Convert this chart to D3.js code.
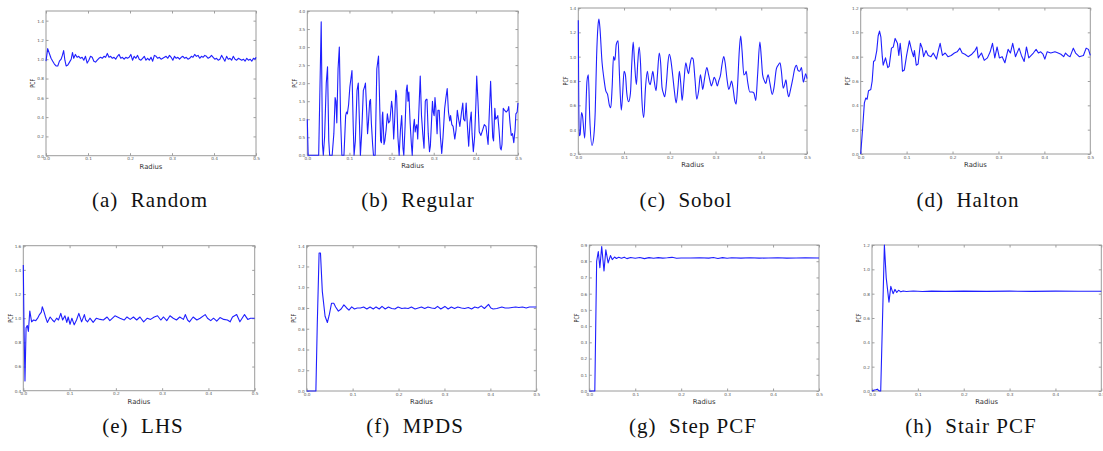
<!DOCTYPE html>
<html>
<head>
<meta charset="utf-8">
<script src="https://cdn.jsdelivr.net/npm/d3@7"></script>
<style>
  body { margin: 0; background: #fff; }
  .tick text { font-family: "DejaVu Sans", sans-serif; font-size: 4.2px; fill: #555; }
  .tick line { stroke: #888; stroke-width: 0.8; }
  .axis-label { font-family: "DejaVu Sans", sans-serif; font-size: 6.8px; fill: #333; }
  .caption { font-family: "Liberation Serif", serif; font-size: 21px; fill: #111; letter-spacing: 1px; }
</style>
</head>
<body>
<svg id="fig" width="1103" height="451"></svg>
<script>
// Radius axis is the same for every panel
const radiusTicks = [0, 0.1, 0.2, 0.3, 0.4, 0.5];

// PCF curves, [radius, pcf]
const randomPcf = [[0,0.98],[0.004,1.11],[0.008,1.06],[0.012,1.01],[0.016,0.98],[0.02,0.95],[0.024,0.93],[0.028,0.93],[0.032,0.98],[0.036,1.00],[0.039,1.04],[0.042,1.09],[0.045,0.99],[0.048,0.93],[0.052,0.94],[0.056,0.97],[0.06,1.00],[0.063,1.07],[0.066,1.01],[0.07,1.05],[0.074,1.02],[0.078,1.03],[0.082,1.01],[0.086,1.02],[0.09,0.99],[0.094,1.03],[0.098,0.96],[0.102,0.99],[0.106,1.03],[0.11,1.02],[0.114,0.98],[0.118,0.97],[0.122,0.99],[0.126,1.01],[0.13,1.02],[0.134,1.01],[0.138,1.03],[0.142,1.02],[0.146,1.06],[0.15,1.02],[0.154,1.03],[0.158,1.01],[0.162,1.02],[0.166,1.00],[0.17,1.03],[0.174,1.05],[0.178,1.01],[0.182,1.02],[0.186,1.00],[0.19,1.02],[0.194,1.01],[0.198,1.02],[0.202,1.05],[0.206,0.99],[0.21,1.03],[0.214,1.01],[0.218,1.04],[0.222,1.00],[0.226,0.99],[0.23,1.01],[0.234,1.03],[0.238,0.99],[0.242,1.01],[0.246,0.99],[0.25,1.02],[0.254,0.98],[0.258,1.04],[0.262,1.03],[0.266,1.01],[0.27,1.02],[0.274,1.00],[0.278,1.01],[0.282,1.02],[0.286,1.03],[0.29,1.01],[0.294,1.04],[0.298,1.02],[0.302,0.99],[0.306,1.03],[0.31,1.01],[0.314,1.02],[0.318,1.00],[0.322,1.02],[0.326,1.03],[0.33,1.01],[0.334,1.02],[0.338,1.00],[0.342,1.01],[0.346,1.03],[0.35,1.02],[0.354,1.05],[0.358,1.03],[0.362,1.04],[0.366,1.01],[0.37,1.03],[0.374,1.02],[0.378,1.04],[0.382,1.03],[0.386,1.01],[0.39,1.02],[0.394,1.04],[0.398,1.02],[0.402,1.00],[0.406,1.01],[0.41,0.99],[0.414,1.00],[0.418,1.04],[0.422,1.01],[0.426,0.98],[0.43,1.03],[0.434,1.00],[0.438,1.01],[0.442,0.99],[0.446,1.03],[0.45,1.00],[0.454,0.99],[0.458,1.01],[0.462,1.00],[0.466,0.99],[0.47,1.00],[0.474,0.98],[0.478,1.01],[0.482,0.99],[0.486,1.00],[0.49,0.98],[0.494,1.01],[0.498,1.00],[0.5,1.02]];

const regularPcf = [[0,1.0],[0.002,0],[0.027,0],[0.033,3.7],[0.036,0.3],[0.038,0],[0.041,0.5],[0.045,2.0],[0.048,2.45],[0.051,0.4],[0.053,0],[0.059,0],[0.063,0.6],[0.066,1.6],[0.068,1.5],[0.07,0.9],[0.073,2.4],[0.076,3.0],[0.079,1.0],[0.082,0],[0.087,0],[0.091,1.1],[0.093,1.2],[0.095,1.15],[0.098,1.4],[0.101,1.9],[0.106,2.35],[0.109,0.8],[0.111,0],[0.114,0.4],[0.118,1.8],[0.121,2.0],[0.124,0.8],[0.126,0],[0.129,0.6],[0.133,1.8],[0.136,1.9],[0.138,2.0],[0.141,1.2],[0.143,0.6],[0.145,0.9],[0.148,1.5],[0.15,1.55],[0.152,0.9],[0.155,0.3],[0.157,0],[0.161,0],[0.165,2.4],[0.169,2.75],[0.172,1.3],[0.174,0.4],[0.176,0.35],[0.178,1.1],[0.179,1.2],[0.182,0.3],[0.184,0.4],[0.187,0.7],[0.19,1.15],[0.193,0.9],[0.196,0.95],[0.2,1.5],[0.202,1.3],[0.205,0.45],[0.207,0.9],[0.21,1.8],[0.212,1.65],[0.215,0.5],[0.218,0],[0.221,0.7],[0.224,1.1],[0.227,0.2],[0.229,0],[0.232,0.8],[0.235,1.8],[0.237,1.95],[0.239,1.5],[0.241,1.75],[0.244,0.9],[0.247,0.3],[0.249,0],[0.252,0.8],[0.254,1.0],[0.256,0.65],[0.258,0.8],[0.26,0.85],[0.262,0.45],[0.265,1.3],[0.268,2.2],[0.271,1.1],[0.274,0.6],[0.277,0.2],[0.28,1.5],[0.282,1.55],[0.284,1.55],[0.287,0.6],[0.29,0.1],[0.292,0.25],[0.295,1.0],[0.297,1.5],[0.299,1.2],[0.301,1.1],[0.303,1.6],[0.305,1.3],[0.308,0.6],[0.31,1.25],[0.313,1.25],[0.316,0.5],[0.319,0.05],[0.322,0.5],[0.326,1.3],[0.329,1.6],[0.332,1.85],[0.335,1.2],[0.338,0.95],[0.34,1.1],[0.343,0.85],[0.346,0.8],[0.35,0.45],[0.353,0.7],[0.356,1.25],[0.359,1.0],[0.362,0.8],[0.366,1.2],[0.369,1.45],[0.371,1.0],[0.374,0.95],[0.377,1.45],[0.38,0.8],[0.383,0.25],[0.386,0.9],[0.389,1.2],[0.391,0.6],[0.394,0.1],[0.397,0.5],[0.4,1.4],[0.402,2.2],[0.405,1.5],[0.408,0.65],[0.412,0.55],[0.416,0.7],[0.42,0.85],[0.424,0.8],[0.427,0.5],[0.429,0.3],[0.432,1.2],[0.435,2.05],[0.438,1.1],[0.44,0.5],[0.442,0.4],[0.445,1.3],[0.447,1.0],[0.45,1.05],[0.452,1.1],[0.455,0.7],[0.458,0.2],[0.46,0.15],[0.462,0.3],[0.465,1.3],[0.468,1.25],[0.472,1.2],[0.476,1.25],[0.478,1.35],[0.481,0.9],[0.484,0.55],[0.487,0.6],[0.49,0.35],[0.493,0.7],[0.495,1.15],[0.498,1.2],[0.5,1.45]];

const sobolPcf = [[0,1.30],[0.002,0.35],[0.004,0.36],[0.007,0.54],[0.009,0.52],[0.014,0.33],[0.019,0.8],[0.022,0.85],[0.025,0.5],[0.03,0.27],[0.034,0.35],[0.037,0.55],[0.04,1.0],[0.043,1.25],[0.045,1.31],[0.047,1.25],[0.052,0.95],[0.056,0.82],[0.06,0.72],[0.064,0.69],[0.068,0.6],[0.071,0.58],[0.074,0.75],[0.077,1.0],[0.08,0.97],[0.083,1.1],[0.087,1.13],[0.09,0.85],[0.094,0.56],[0.097,0.7],[0.1,0.88],[0.103,0.85],[0.106,0.7],[0.11,0.63],[0.114,0.7],[0.117,0.95],[0.12,1.12],[0.123,0.95],[0.127,0.77],[0.13,0.95],[0.133,1.08],[0.136,0.95],[0.139,0.65],[0.143,0.5],[0.147,0.75],[0.151,0.88],[0.154,0.8],[0.157,0.77],[0.16,0.82],[0.163,0.88],[0.166,0.8],[0.17,0.72],[0.173,0.85],[0.177,1.03],[0.18,0.95],[0.183,0.75],[0.186,0.7],[0.189,0.67],[0.193,0.8],[0.196,0.95],[0.199,1.02],[0.202,0.98],[0.206,0.86],[0.21,0.72],[0.214,0.62],[0.218,0.75],[0.221,0.88],[0.224,0.78],[0.227,0.64],[0.231,0.8],[0.235,0.95],[0.238,0.9],[0.241,0.86],[0.244,0.93],[0.248,0.99],[0.251,0.98],[0.255,0.82],[0.259,0.65],[0.263,0.72],[0.267,0.85],[0.27,0.78],[0.272,0.73],[0.276,0.82],[0.281,0.91],[0.285,0.85],[0.288,0.8],[0.291,0.76],[0.294,0.79],[0.297,0.83],[0.3,0.81],[0.304,0.76],[0.307,0.8],[0.311,0.85],[0.314,0.93],[0.318,1.0],[0.321,0.95],[0.325,0.82],[0.329,0.73],[0.332,0.76],[0.335,0.8],[0.338,0.75],[0.342,0.64],[0.345,0.61],[0.348,0.75],[0.352,1.05],[0.355,1.17],[0.358,1.05],[0.362,0.85],[0.365,0.86],[0.367,0.88],[0.37,0.8],[0.375,0.71],[0.38,0.71],[0.384,0.7],[0.388,0.64],[0.392,0.85],[0.397,1.12],[0.4,1.0],[0.403,0.85],[0.407,0.8],[0.41,0.78],[0.413,0.83],[0.415,0.85],[0.419,0.78],[0.424,0.69],[0.428,0.75],[0.433,0.9],[0.437,0.93],[0.441,0.95],[0.444,0.88],[0.448,0.74],[0.451,0.77],[0.454,0.81],[0.457,0.72],[0.46,0.67],[0.464,0.73],[0.469,0.82],[0.473,0.9],[0.477,0.93],[0.48,0.89],[0.484,0.88],[0.488,0.91],[0.492,0.79],[0.495,0.83],[0.497,0.86],[0.5,0.82]];

const haltonPcf = [[0,0],[0.004,0.2],[0.008,0.42],[0.011,0.46],[0.014,0.45],[0.017,0.52],[0.022,0.53],[0.025,0.6],[0.028,0.76],[0.031,0.77],[0.035,0.85],[0.038,0.97],[0.041,1.01],[0.044,0.96],[0.047,0.8],[0.049,0.73],[0.054,0.79],[0.059,0.71],[0.062,0.72],[0.067,0.87],[0.071,0.88],[0.075,0.95],[0.08,0.91],[0.083,0.81],[0.086,0.91],[0.089,0.8],[0.091,0.68],[0.095,0.69],[0.1,0.81],[0.106,0.93],[0.111,0.85],[0.115,0.8],[0.117,0.85],[0.121,0.73],[0.125,0.74],[0.13,0.91],[0.134,0.87],[0.137,0.8],[0.142,0.85],[0.147,0.81],[0.153,0.8],[0.158,0.83],[0.165,0.78],[0.169,0.85],[0.173,0.91],[0.178,0.81],[0.184,0.83],[0.19,0.8],[0.197,0.81],[0.204,0.83],[0.21,0.84],[0.216,0.87],[0.221,0.83],[0.227,0.82],[0.234,0.8],[0.242,0.82],[0.249,0.85],[0.253,0.88],[0.256,0.79],[0.263,0.83],[0.269,0.77],[0.276,0.79],[0.282,0.84],[0.287,0.91],[0.292,0.79],[0.297,0.88],[0.302,0.79],[0.308,0.8],[0.314,0.75],[0.321,0.86],[0.326,0.83],[0.331,0.91],[0.337,0.8],[0.345,0.87],[0.35,0.81],[0.356,0.76],[0.361,0.88],[0.366,0.79],[0.376,0.83],[0.382,0.86],[0.387,0.83],[0.392,0.84],[0.397,0.82],[0.401,0.78],[0.406,0.84],[0.414,0.83],[0.423,0.84],[0.43,0.83],[0.436,0.82],[0.442,0.8],[0.446,0.83],[0.451,0.81],[0.456,0.8],[0.463,0.87],[0.468,0.83],[0.476,0.8],[0.485,0.81],[0.491,0.87],[0.496,0.86],[0.5,0.81]];

const lhsPcf = [[0,1.44],[0.0015,0.94],[0.0036,0.48],[0.006,0.92],[0.0086,0.94],[0.011,0.89],[0.014,1.06],[0.018,0.97],[0.022,0.985],[0.027,0.98],[0.031,1.0],[0.035,1.03],[0.039,1.05],[0.041,1.095],[0.045,1.05],[0.048,1.01],[0.052,0.965],[0.058,1.01],[0.063,0.985],[0.067,0.97],[0.072,1.0],[0.076,0.985],[0.081,1.04],[0.085,0.985],[0.09,1.02],[0.094,0.965],[0.097,1.01],[0.101,0.95],[0.105,1.0],[0.11,0.945],[0.115,0.985],[0.12,1.04],[0.126,0.97],[0.132,1.03],[0.135,0.985],[0.139,0.97],[0.144,1.0],[0.151,0.965],[0.158,1.0],[0.166,0.99],[0.173,0.985],[0.181,1.01],[0.187,0.98],[0.198,1.02],[0.209,1.0],[0.218,0.985],[0.224,1.01],[0.231,0.99],[0.238,1.01],[0.245,0.985],[0.252,1.01],[0.26,0.97],[0.268,1.0],[0.275,0.99],[0.283,1.01],[0.29,1.02],[0.297,0.985],[0.303,1.01],[0.31,0.98],[0.317,1.02],[0.324,1.0],[0.331,0.985],[0.338,1.01],[0.346,0.99],[0.35,1.03],[0.355,0.985],[0.359,0.97],[0.367,1.01],[0.375,0.985],[0.382,1.0],[0.393,1.03],[0.398,1.0],[0.405,0.98],[0.411,1.0],[0.418,0.975],[0.425,1.005],[0.433,0.99],[0.441,0.985],[0.447,0.97],[0.452,1.01],[0.461,1.03],[0.468,0.97],[0.478,1.03],[0.485,0.99],[0.491,1.0],[0.5,1.0]];

const mpdsPcf = [[0,0],[0.02,0],[0.023,0.64],[0.027,1.33],[0.03,1.33],[0.034,0.96],[0.04,0.72],[0.045,0.66],[0.049,0.73],[0.054,0.845],[0.059,0.845],[0.063,0.81],[0.069,0.77],[0.075,0.79],[0.081,0.83],[0.087,0.8],[0.092,0.78],[0.098,0.81],[0.104,0.79],[0.11,0.8],[0.117,0.8],[0.124,0.81],[0.131,0.79],[0.138,0.81],[0.145,0.79],[0.151,0.81],[0.158,0.79],[0.164,0.815],[0.171,0.79],[0.178,0.81],[0.185,0.795],[0.192,0.79],[0.199,0.81],[0.207,0.795],[0.214,0.8],[0.221,0.795],[0.228,0.81],[0.236,0.79],[0.243,0.8],[0.25,0.81],[0.257,0.795],[0.264,0.81],[0.272,0.8],[0.279,0.795],[0.285,0.815],[0.292,0.79],[0.301,0.815],[0.308,0.79],[0.315,0.81],[0.322,0.795],[0.329,0.81],[0.337,0.8],[0.344,0.795],[0.352,0.805],[0.359,0.79],[0.366,0.81],[0.373,0.8],[0.38,0.82],[0.387,0.795],[0.396,0.835],[0.401,0.8],[0.406,0.79],[0.414,0.795],[0.425,0.81],[0.432,0.8],[0.44,0.8],[0.447,0.805],[0.455,0.81],[0.462,0.805],[0.47,0.81],[0.478,0.8],[0.485,0.81],[0.492,0.81],[0.5,0.81]];

const stepPcf = [[0,0],[0.012,0],[0.016,0.8],[0.0196,0.86],[0.023,0.76],[0.027,0.89],[0.032,0.74],[0.036,0.87],[0.041,0.79],[0.046,0.835],[0.05,0.81],[0.055,0.826],[0.059,0.817],[0.064,0.824],[0.07,0.818],[0.076,0.825],[0.082,0.816],[0.09,0.823],[0.1,0.818],[0.11,0.823],[0.12,0.816],[0.13,0.822],[0.14,0.818],[0.15,0.822],[0.16,0.819],[0.17,0.821],[0.18,0.824],[0.19,0.818],[0.2,0.82],[0.22,0.82],[0.24,0.821],[0.26,0.819],[0.27,0.823],[0.28,0.817],[0.29,0.822],[0.3,0.818],[0.31,0.821],[0.33,0.819],[0.35,0.821],[0.37,0.819],[0.39,0.82],[0.41,0.821],[0.43,0.819],[0.45,0.82],[0.47,0.821],[0.5,0.82]];

const stairPcf = [[0,0],[0.005,0.008],[0.008,0.01],[0.012,0.015],[0.014,0.005],[0.017,0],[0.019,0],[0.027,1.2],[0.031,0.93],[0.037,0.73],[0.041,0.86],[0.046,0.8],[0.05,0.835],[0.054,0.81],[0.058,0.828],[0.063,0.815],[0.068,0.822],[0.075,0.818],[0.09,0.822],[0.11,0.818],[0.13,0.821],[0.16,0.819],[0.2,0.821],[0.25,0.819],[0.3,0.821],[0.35,0.819],[0.4,0.821],[0.45,0.82],[0.5,0.82]];

// y axis ranges and tick labels per panel
const yDomains = [[0, 1.5], [0, 4], [0.2, 1.4], [0, 1.2], [0.4, 1.6], [0, 1.4], [0, 0.9], [0, 1.2]];
const yTickValues = [
  [0, 0.2, 0.4, 0.6, 0.8, 1.0, 1.2, 1.4],
  [0, 0.5, 1.0, 1.5, 2.0, 2.5, 3.0, 3.5, 4.0],
  [0.2, 0.4, 0.6, 0.8, 1.0, 1.2, 1.4],
  [0, 0.2, 0.4, 0.6, 0.8, 1.0, 1.2],
  [0.4, 0.6, 0.8, 1.0, 1.2, 1.4, 1.6],
  [0, 0.2, 0.4, 0.6, 0.8, 1.0, 1.2, 1.4],
  [0, 0.1, 0.2, 0.3, 0.4, 0.5, 0.6, 0.7, 0.8, 0.9],
  [0, 0.2, 0.4, 0.6, 0.8, 1.0, 1.2]
];
const captions = ["(a)\u00a0 Random", "(b)\u00a0 Regular", "(c)\u00a0 Sobol", "(d)\u00a0 Halton",
                  "(e)\u00a0 LHS", "(f)\u00a0 MPDS", "(g)\u00a0 Step PCF", "(h)\u00a0 Stair PCF"];
const series = [randomPcf, regularPcf, sobolPcf, haltonPcf, lhsPcf, mpdsPcf, stepPcf, stairPcf];

// layout: plot frame [left, top, right, bottom] and caption position
const layout = [
  { box: [46, 11, 256, 155.7], cap: [150, 206.5] },
  { box: [307.3, 11, 518, 155.3], cap: [418, 206.5] },
  { box: [578.3, 8, 807, 154], cap: [686, 206.5] },
  { box: [860.7, 8, 1090.3, 154], cap: [968, 206.5] },
  { box: [23.3, 245.7, 254.7, 390.7], cap: [143, 433] },
  { box: [306.7, 245.7, 536.3, 391], cap: [415, 433] },
  { box: [589.3, 245, 819, 391], cap: [693, 433] },
  { box: [872, 245, 1101.3, 391], cap: [971, 433] }
];

const svg = d3.select("#fig");
const fmt = d3.format(".1f");

series.forEach((data, i) => {
  const [left, top, right, bottom] = layout[i].box;
  const x = d3.scaleLinear().domain([0, 0.5]).range([left, right]);
  const y = d3.scaleLinear().domain(yDomains[i]).range([bottom, top]);
  const g = svg.append("g");

  // inward ticks on all four sides, labels only bottom/left
  g.append("g").attr("transform", `translate(0,${bottom})`)
    .call(d3.axisBottom(x).tickValues(radiusTicks).tickFormat(fmt).tickSizeInner(-2.5).tickSizeOuter(0).tickPadding(1.8));
  g.append("g").attr("transform", `translate(0,${top})`)
    .call(d3.axisTop(x).tickValues(radiusTicks).tickFormat("").tickSizeInner(-2.5).tickSizeOuter(0));
  g.append("g").attr("transform", `translate(${left},0)`)
    .call(d3.axisLeft(y).tickValues(yTickValues[i]).tickFormat(fmt).tickSizeInner(-2.5).tickSizeOuter(0).tickPadding(2));
  g.append("g").attr("transform", `translate(${right},0)`)
    .call(d3.axisRight(y).tickValues(yTickValues[i]).tickFormat("").tickSizeInner(-2.5).tickSizeOuter(0));
  g.selectAll(".domain").remove();

  g.append("rect")
    .attr("x", left).attr("y", top)
    .attr("width", right - left).attr("height", bottom - top)
    .attr("fill", "none").attr("stroke", "#9a9a9a").attr("stroke-width", 1);

  const line = d3.line()
    .x(d => x(d[0]))
    .y(d => y(d[1]))
    .curve(i === 2 ? d3.curveMonotoneX : d3.curveLinear);

  g.append("path")
    .datum(data)
    .attr("d", line)
    .attr("fill", "none")
    .attr("stroke", "#1f1fff")
    .attr("stroke-width", 1.1)
    .attr("stroke-linejoin", "round");

  // axis titles
  g.append("text")
    .attr("class", "axis-label")
    .attr("x", (left + right) / 2)
    .attr("y", bottom + 10.5)
    .attr("dy", "0.35em")
    .attr("text-anchor", "middle")
    .text("Radius");

  g.append("text")
    .attr("class", "axis-label")
    .attr("transform", `translate(${left - 13},${(top + bottom) / 2}) rotate(-90)`)
    .attr("dy", "0.35em")
    .attr("text-anchor", "middle")
    .attr("textLength", 9)
    .attr("lengthAdjust", "spacingAndGlyphs")
    .text("PCF");

  svg.append("text")
    .attr("class", "caption")
    .attr("x", layout[i].cap[0])
    .attr("y", layout[i].cap[1])
    .attr("text-anchor", "middle")
    .text(captions[i]);
});
</script>
</body>
</html>
